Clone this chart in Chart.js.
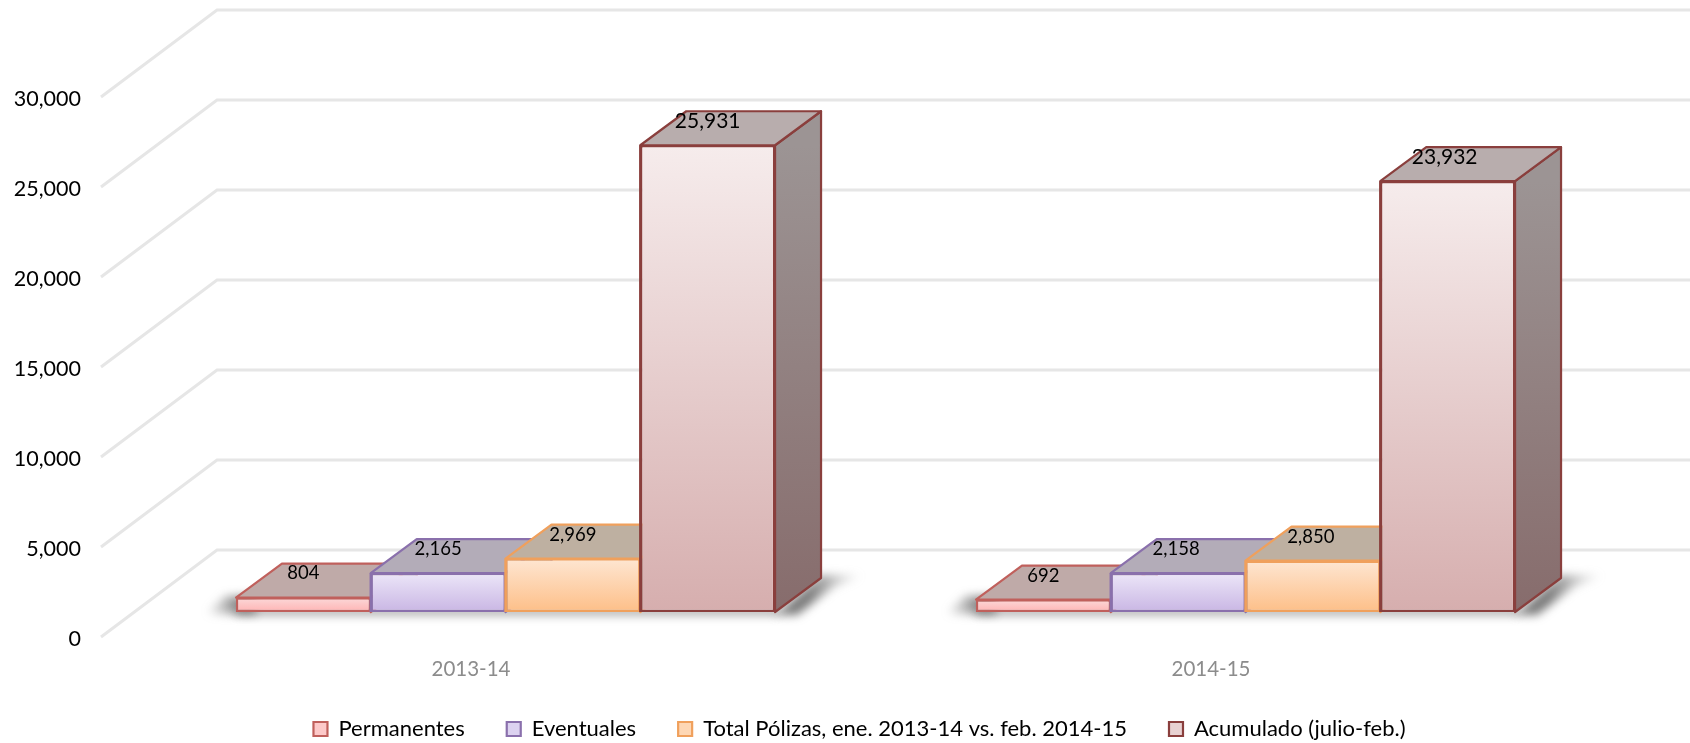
<!DOCTYPE html>
<html>
<head>
<meta charset="utf-8">
<style>
html,body{margin:0;padding:0;background:#fff;}
#wrap{width:1690px;height:743px;position:relative;}
</style>
<script src="https://cdn.jsdelivr.net/npm/chart.js@4"></script>
</head>
<body>
<div id="wrap"><canvas id="c" width="1690" height="743"></canvas></div>
<script>
const categories = ['2013-14', '2014-15'];
const seriesNames = ['Permanentes', 'Eventuales', 'Total Pólizas, ene. 2013-14 vs. feb. 2014-15', 'Acumulado (julio-feb.)'];
const permanentes = [804, 692];
const eventuales = [2165, 2158];
const totalPolizas = [2969, 2850];
const acumulado = [25931, 23932];
const seriesValues = [permanentes, eventuales, totalPolizas, acumulado];
const yMax = 30000;
const yStep = 5000;

const styles = [
  {border:'#c0605c', top:'#fbd9d9', bottom:'#ffb3b3', swatch:'#fdc9c9', roof:'#bfaaa8', sideA:'#a89a98', sideB:'#8f7a78', labelSize:18.5},
  {border:'#8a70ac', top:'#ece6f8', bottom:'#c9b6e4', swatch:'#dcd2f0', roof:'#b3acb8', sideA:'#a39cab', sideB:'#8d8498', labelSize:18.5},
  {border:'#f0a05c', top:'#fee6d2', bottom:'#fdbf88', swatch:'#fed7b4', roof:'#beb0a1', sideA:'#a89c8e', sideB:'#958878', labelSize:18.5},
  {border:'#8a3f3d', top:'#f6ecec', bottom:'#d6aeae', swatch:'#e8d2d2', roof:'#b8adad', sideA:'#9c9494', sideB:'#876c6c', labelSize:21}
];

// 3-D construction of the Excel-style chart
const WALL = {x:116, y:-87};       // front axis plane -> back wall
const BAR_SHIFT = {x:34.5, y:-25}; // front axis plane -> front of bars
const DEPTH = {x:46, y:-34};       // front of bar -> back of bar
const LABEL_RISE = 24;
const labelNudge = {'1:1': -2, '2:1': -2, '3:1': -3};
const LEGEND_SHIFT = {x:69, y:-9};

function poly(ctx, pts){
  ctx.beginPath();
  pts.forEach((p,i)=> i ? ctx.lineTo(p[0],p[1]) : ctx.moveTo(p[0],p[1]));
  ctx.closePath();
}
function rect(chart, ds, i){
  const el = chart.getDatasetMeta(ds).data[i];
  const left = el.x - el.width/2 + BAR_SHIFT.x, right = el.x + el.width/2 + BAR_SHIFT.x;
  return {left, right, top: el.y + BAR_SHIFT.y, base: el.base + BAR_SHIFT.y, cx: el.x + BAR_SHIFT.x};
}

const scene = {
  id:'scene',
  afterLayout(chart){
    const l = chart.legend;
    l.left += LEGEND_SHIFT.x; l.right += LEGEND_SHIFT.x;
    l.top += LEGEND_SHIFT.y; l.bottom += LEGEND_SHIFT.y;
  },
  beforeDatasetsDraw(chart){
    const {ctx, chartArea:a, scales:{y}} = chart;
    ctx.save();
    ctx.strokeStyle = '#e6e6e6';
    ctx.lineWidth = 3;
    ctx.lineJoin = 'miter';
    y.ticks.forEach(t=>{
      const py = y.getPixelForValue(t.value);
      ctx.beginPath();
      ctx.moveTo(a.left, py);
      ctx.lineTo(a.left+WALL.x, py+WALL.y);
      ctx.lineTo(a.right+WALL.x, py+WALL.y);
      ctx.stroke();
    });
    ctx.restore();

    // floor shadow per category
    categories.forEach((c,i)=>{
      const first = rect(chart,0,i), last = rect(chart,seriesNames.length-1,i);
      ctx.save();
      ctx.filter = 'blur(5px)';
      const g = ctx.createLinearGradient(first.left-30,0,first.left+4,0);
      g.addColorStop(0,'rgba(100,100,100,0)');
      g.addColorStop(1,'rgba(100,100,100,0.8)');
      ctx.fillStyle = g;
      poly(ctx,[[first.left-32,first.base+2],[first.left+20,first.base+2],[first.left+20,first.base-16],[first.left-10,first.base-16]]);
      ctx.fill();
      ctx.fillStyle = 'rgba(120,120,120,0.7)';
      ctx.fillRect(first.left, first.base-4, last.right-first.left+4, 7);
      const g2 = ctx.createLinearGradient(last.right+DEPTH.x-12,0,last.right+DEPTH.x+42,0);
      g2.addColorStop(0,'rgba(90,90,90,0.8)');
      g2.addColorStop(1,'rgba(150,150,150,0)');
      ctx.fillStyle = g2;
      poly(ctx,[
        [last.right,last.base+3],
        [last.right+DEPTH.x,last.base+DEPTH.y-3],
        [last.right+DEPTH.x+44,last.base+DEPTH.y-3],
        [last.right+DEPTH.x+14,last.base+DEPTH.y+8],
        [last.right+22,last.base+3]
      ]);
      ctx.fill();
      ctx.restore();
    });

    // side and roof faces, drawn in series order
    seriesNames.forEach((n,ds)=>{
      const st = styles[ds];
      categories.forEach((c,i)=>{
        const r = rect(chart,ds,i);
        ctx.save();
        ctx.lineWidth = 2.2;
        ctx.lineJoin = 'round';
        ctx.strokeStyle = st.border;
        const side = ctx.createLinearGradient(0,r.top,0,r.base);
        side.addColorStop(0,st.sideA);
        side.addColorStop(1,st.sideB);
        ctx.fillStyle = side;
        poly(ctx,[[r.right,r.top],[r.right+DEPTH.x,r.top+DEPTH.y],[r.right+DEPTH.x,r.base+DEPTH.y],[r.right,r.base]]);
        ctx.fill(); ctx.stroke();
        ctx.fillStyle = st.roof;
        poly(ctx,[[r.left,r.top],[r.left+DEPTH.x,r.top+DEPTH.y],[r.right+DEPTH.x,r.top+DEPTH.y],[r.right,r.top]]);
        ctx.fill(); ctx.stroke();
        ctx.restore();
      });
    });
  },
  beforeDatasetDraw(chart){
    chart.ctx.save();
    chart.ctx.translate(BAR_SHIFT.x, BAR_SHIFT.y);
  },
  afterDatasetDraw(chart){
    chart.ctx.restore();
  },
  afterDatasetsDraw(chart){
    const {ctx} = chart;
    ctx.save();
    // later bars' left edges sit on top of the earlier neighbour
    ctx.lineWidth = 2.4;
    seriesNames.forEach((n,ds)=>{
      if(!ds) return;
      ctx.strokeStyle = styles[ds].border;
      categories.forEach((c,i)=>{
        const r = rect(chart,ds,i);
        ctx.beginPath();
        ctx.moveTo(r.left, r.top);
        ctx.lineTo(r.left, r.base);
        ctx.stroke();
      });
    });
    ctx.fillStyle = '#000';
    ctx.textAlign = 'center';
    ctx.textBaseline = 'middle';
    seriesNames.forEach((n,ds)=>{
      ctx.font = styles[ds].labelSize + 'px Lato';
      categories.forEach((c,i)=>{
        const r = rect(chart,ds,i);
        const nudge = labelNudge[ds+':'+i] || 0;
        ctx.fillText(seriesValues[ds][i].toLocaleString('en-US'), r.cx + nudge, r.top - LABEL_RISE);
      });
    });
    ctx.restore();
  }
};

function faceGradient(ds){
  return (c)=>{
    const chart = c.chart, y = chart.scales.y;
    if(!y || !c.parsed) return styles[ds].swatch;
    const g = chart.ctx.createLinearGradient(0, y.getPixelForValue(c.parsed.y), 0, y.getPixelForValue(0));
    g.addColorStop(0, styles[ds].top);
    g.addColorStop(1, styles[ds].bottom);
    return g;
  };
}

new Chart(document.getElementById('c'),{
  type:'bar',
  data:{
    labels:categories,
    datasets:seriesNames.map((name,ds)=>({
      label:name,
      data:seriesValues[ds],
      backgroundColor:faceGradient(ds),
      borderColor:styles[ds].border,
      borderWidth:2.2,
      borderSkipped:false,
      categoryPercentage:0.7285,
      barPercentage:1,
      clip:false
    }))
  },
  plugins:[scene],
  options:{
    responsive:false,
    animation:false,
    layout:{padding:{top:97,right:109,bottom:-16,left:0}},
    scales:{
      x:{
        grid:{display:false,drawTicks:false},
        border:{display:false},
        ticks:{padding:20,color:'#8c8c8c',font:{family:'Lato',size:20.5}},
        afterFit(s){s.height=48;}
      },
      y:{
        min:0,max:yMax,
        grid:{display:false,drawTicks:false},
        border:{display:false},
        ticks:{stepSize:yStep,padding:20,labelOffset:2.5,color:'#000',font:{family:'Lato',size:21.5},
          callback:v=>Number(v).toLocaleString('en-US')},
        afterFit(s){s.width=101;}
      }
    },
    plugins:{
      tooltip:{enabled:false},
      legend:{
        position:'bottom',
        onClick:null,
        labels:{
          color:'#000',
          font:{family:'Lato',size:22},
          boxWidth:14,boxHeight:14,padding:42,
          generateLabels(){
            return seriesNames.map((n,ds)=>({text:n,fillStyle:styles[ds].swatch,strokeStyle:styles[ds].border,lineWidth:2.2,datasetIndex:ds}));
          }
        }
      }
    }
  }
});
</script>
</body>
</html>
